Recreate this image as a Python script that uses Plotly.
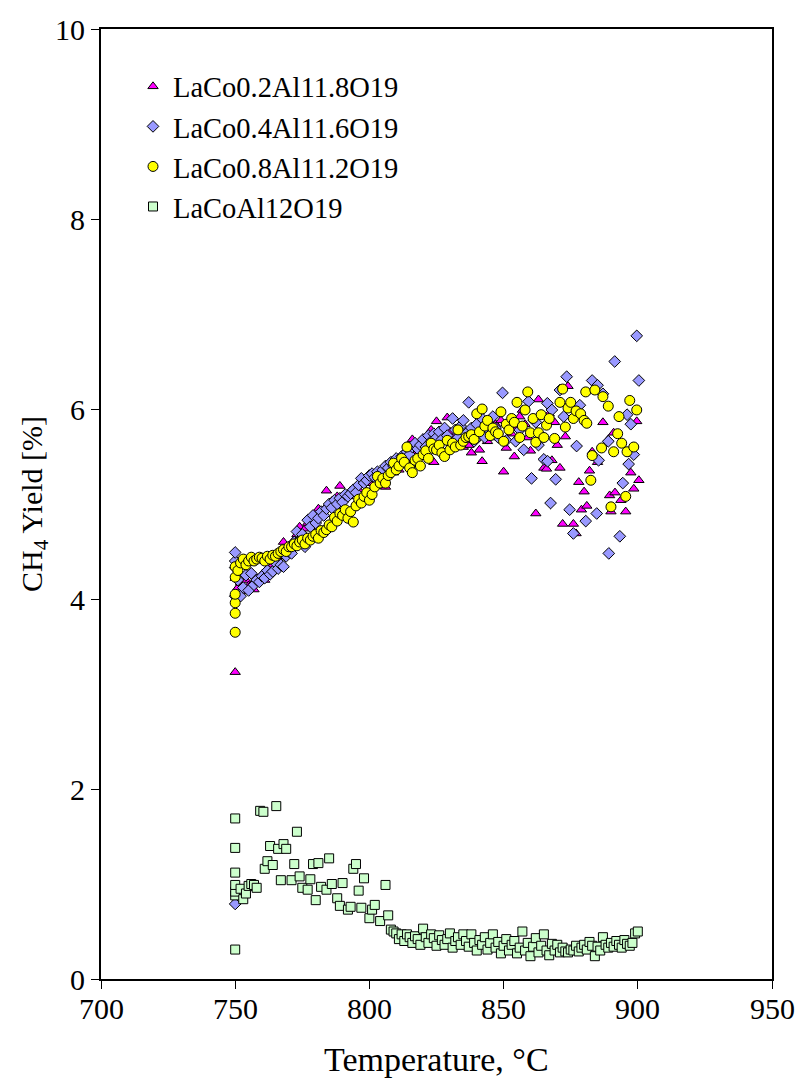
import plotly.graph_objects as go

# LaCo0.2Al11.8O19 (magenta triangles)
t1 = [750, 750, 751, 752, 753, 754, 755, 756, 757, 758, 759, 760, 761, 762, 763, 764, 765, 766, 767, 768,
      769, 770, 771, 772, 773, 774, 775, 776, 777, 778, 779, 780, 781, 782, 783, 784, 785, 786, 787, 788,
      789, 790, 791, 792, 793, 794, 795, 796, 797, 798, 799, 800, 801, 802, 803, 804, 805, 806, 807, 808,
      809, 810, 811, 812, 813, 814, 815, 816, 817, 818, 819, 820, 821, 822, 823, 824, 825, 826, 827, 828,
      829, 830, 831, 832, 833, 834, 835, 836, 837, 838, 839, 840, 841, 842, 843, 844, 845, 846, 847, 848,
      849, 850, 851, 852, 853, 854, 855, 856, 857, 858, 859, 860, 861, 862, 863, 864, 865, 866, 867, 868,
      869, 870, 871, 872, 873, 874, 875, 876, 877, 878, 879, 880, 881, 882, 883, 885, 887, 889, 889.5, 890,
      891, 891.5, 893.7, 895.5, 897.4, 898.5, 899.6, 900.4]
y1 = [3.23, 4.22, 4.12, 4.17, 4.08, 4.20, 4.14, 4.15, 4.10, 4.22, 4.19, 4.26, 4.20, 4.30, 4.28, 4.36, 4.34, 4.42, 4.45, 4.60,
      4.52, 4.55, 4.58, 4.62, 4.68, 4.76, 4.70, 4.74, 4.80, 4.84, 4.78, 4.86, 4.95, 4.90, 4.94, 5.14, 4.98, 5.03, 5.00, 5.08,
      5.19, 5.06, 5.10, 5.08, 5.14, 5.12, 5.18, 5.15, 5.20, 5.22, 5.25, 5.22, 5.28, 5.26, 5.30, 5.24, 5.32, 5.18, 5.35, 5.38,
      5.33, 5.40, 5.36, 5.45, 5.42, 5.50, 5.46, 5.68, 5.52, 5.55, 5.60, 5.58, 5.64, 5.62, 5.78, 5.44, 5.87, 5.66, 5.70, 5.68,
      5.91, 5.76, 5.62, 5.72, 5.65, 5.70, 5.60, 5.75, 5.62, 5.54, 5.68, 5.72, 5.57, 5.45, 5.78, 5.66, 5.82, 5.70, 5.84, 5.76,
      5.88, 5.34, 5.59, 5.86, 5.74, 5.50, 5.80, 5.92, 5.99, 5.84, 5.70, 5.56, 5.90, 4.90, 6.10, 5.94, 5.38, 5.37, 5.95, 5.46,
      5.86, 5.62, 5.38, 4.79, 5.71, 6.24, 6.05, 4.79, 4.69, 5.23, 4.94, 5.13, 4.98, 5.35, 5.55, 5.44, 5.86, 5.68, 5.09, 4.92,
      5.75, 5.12, 5.04, 4.92, 5.33, 5.16, 5.87, 5.25]

# LaCo0.4Al11.6O19 (blue diamonds)
t2 = [750, 750, 750, 750, 750, 751, 752, 753, 754, 755, 756, 757, 758, 759, 760, 761, 762, 763, 764, 765,
      766, 767, 768, 769, 770, 771, 772, 773, 774, 775, 776, 777, 778, 779, 780, 781, 782, 783, 784, 785,
      786, 787, 788, 789, 790, 791, 792, 793, 794, 795, 796, 797, 798, 799, 800, 801, 802, 803, 804, 805,
      806, 807, 808, 809, 810, 811, 812, 813, 814, 815, 816, 817, 818, 819, 820, 821, 822, 823, 824, 825,
      826, 827, 828, 829, 830, 831, 832, 833, 834, 835, 836, 837, 838, 839, 840, 841, 842, 843, 844, 845,
      846, 847, 848, 849.6, 851, 852, 854.5, 856, 857.5, 859.3, 860.4, 862, 863, 865, 866.3, 866.4, 867.5, 868, 869.4, 871,
      872.4, 873.5, 874.6, 876, 877.2, 878.4, 880.6, 883, 884.7, 885, 885.4, 887, 889, 889.2, 891.4, 893.3, 894.4, 896, 896.6, 897.4,
      898.5, 899.6, 900.4]
y2 = [0.79, 4.03, 4.33, 4.40, 4.49, 4.20, 4.03, 4.12, 4.25, 4.09, 4.27, 4.15, 4.20, 4.18, 4.24, 4.22, 4.30, 4.26, 4.29, 4.38,
      4.32, 4.36, 4.34, 4.45, 4.50, 4.48, 4.60, 4.71, 4.62, 4.68, 4.55, 4.83, 4.76, 4.88, 4.80, 4.85, 4.92, 4.88, 4.95, 5.00,
      4.96, 5.04, 5.00, 5.06, 5.02, 5.10, 5.08, 5.11, 5.15, 5.12, 5.20, 5.27, 5.22, 5.25, 5.30, 5.32, 5.28, 5.34, 5.30, 5.36,
      5.40, 5.38, 5.44, 5.40, 5.48, 5.45, 5.50, 5.46, 5.55, 5.52, 5.60, 5.64, 5.58, 5.62, 5.68, 5.60, 5.72, 5.66, 5.74, 5.70,
      5.76, 5.68, 5.80, 5.72, 5.64, 5.90, 5.78, 5.70, 5.82, 5.88, 5.74, 6.07, 5.80, 5.66, 5.84, 5.72, 5.90, 5.70, 5.86, 5.76,
      5.92, 5.80, 5.70, 6.17, 5.67, 5.84, 5.66, 5.78, 5.57, 6.08, 5.27, 5.86, 5.62, 5.47, 6.06, 5.45, 5.01, 5.99, 5.26, 6.20,
      5.92, 6.34, 4.94, 4.69, 5.61, 6.04, 4.82, 6.30, 4.90, 6.25, 5.46, 6.16, 5.66, 4.48, 6.50, 4.66, 5.22, 5.94, 5.42, 5.84,
      5.52, 6.77, 6.30]

# LaCo0.8Al11.2O19 (yellow circles)
t3 = [750, 750, 750, 750, 750, 750, 751, 752, 753, 754, 755, 756, 757, 758, 759, 760, 761, 762, 763, 764,
      765, 766, 767, 768, 769, 770, 771, 772, 773, 774, 775, 776, 777, 778, 779, 780, 781, 782, 783, 784,
      785, 786, 787, 788, 789, 790, 791, 792, 793, 794, 795, 796, 797, 798, 799, 800, 801, 802, 803, 804,
      805, 806, 807, 808, 809, 810, 811, 812, 813, 814, 815, 816, 817, 818, 819, 820, 821, 822, 823, 824,
      825, 826, 827, 828, 829, 830, 831, 832, 833, 834, 835, 836, 837, 838, 839, 840, 841, 842, 843, 844,
      845, 846, 847, 848, 849, 850, 851, 852, 853, 854, 855, 856, 857, 858, 859, 860, 861, 862, 863, 864,
      865, 866, 867, 869, 871, 872, 873, 874, 875, 876, 877, 878.7, 880, 880.6, 881, 882.5, 883, 884, 886.5, 887,
      889, 890, 891, 892.5, 893, 894, 895.5, 896, 897, 898.5, 899.6]
y3 = [3.65, 3.85, 3.96, 4.05, 4.23, 4.34, 4.30, 4.38, 4.42, 4.36, 4.40, 4.44, 4.40, 4.42, 4.44, 4.43, 4.40, 4.45, 4.42, 4.46,
      4.45, 4.48, 4.50, 4.52, 4.50, 4.55, 4.55, 4.58, 4.56, 4.60, 4.62, 4.58, 4.64, 4.62, 4.66, 4.68, 4.64, 4.72, 4.70, 4.73,
      4.78, 4.76, 4.86, 4.82, 4.90, 4.88, 4.94, 4.85, 4.92, 4.81, 4.98, 5.05, 5.01, 5.08, 5.12, 5.04, 5.10, 5.18, 5.29, 5.22,
      5.27, 5.22, 5.30, 5.33, 5.43, 5.36, 5.40, 5.48, 5.44, 5.60, 5.38, 5.33, 5.46, 5.48, 5.40, 5.52, 5.56, 5.48, 5.64, 5.58,
      5.57, 5.62, 5.54, 5.50, 5.67, 5.57, 5.64, 5.60, 5.78, 5.62, 5.66, 5.70, 5.71, 5.73, 5.68, 5.95, 5.76, 6.00, 5.82, 5.88,
      5.72, 5.80, 5.76, 5.74, 5.97, 5.66, 5.84, 5.78, 5.90, 5.86, 6.07, 5.70, 5.82, 5.99, 6.18, 5.75, 5.90, 5.65, 5.75, 5.94,
      5.70, 5.83, 5.90, 5.69, 6.07, 6.21, 5.81, 6.01, 6.07, 5.90, 5.98, 5.95, 5.88, 6.18, 5.85, 5.25, 5.51, 6.20, 5.59, 6.13,
      6.03, 4.97, 5.55, 5.74, 5.92, 5.64, 5.08, 5.55, 6.09, 5.60, 5.99]

# LaCoAl12O19 (green squares)
t4 = [750, 750, 750, 750, 750, 750, 750, 752, 753, 754, 755, 756, 757, 758, 759.3, 760.5, 761, 762, 763, 764,
      765.3, 766, 767, 768, 769, 771, 772, 773, 774, 775, 777, 778, 779, 780, 781, 782, 784, 785, 786, 788,
      789, 790, 792, 793, 794, 795, 796, 797, 798, 800, 801, 802, 804, 806, 807, 808, 809, 810, 811, 812,
      813, 814, 815, 816, 817, 818, 819, 820, 821, 822, 823, 824, 825, 826, 827, 828, 829, 830, 831, 832,
      833, 834, 835, 836, 837, 838, 839, 840, 841, 842, 843, 844, 845, 846, 847, 848, 849, 850, 851, 852,
      853, 854, 855, 856, 857, 858, 859, 860, 861, 862, 863, 864, 865, 866, 867, 868, 869, 870, 871, 872,
      873, 874, 875, 876, 877, 878, 879, 880, 881, 882, 883, 884, 885, 886, 887, 888, 889, 890, 891, 892,
      893, 894, 895, 896, 897, 898, 899, 900]
y4 = [0.31, 0.88, 0.92, 0.99, 1.12, 1.38, 1.69, 0.95, 0.84, 0.90, 0.98, 1.00, 0.99, 0.96, 1.77, 1.76, 1.16, 1.24, 1.40, 1.20,
      1.82, 1.37, 1.04, 1.42, 1.37, 1.04, 1.21, 1.55, 1.08, 0.96, 0.94, 1.05, 1.21, 0.83, 1.22, 0.97, 0.94, 1.27, 1.00, 0.85,
      0.77, 1.01, 0.73, 0.76, 1.16, 1.21, 0.93, 0.75, 1.06, 0.64, 0.73, 0.78, 0.61, 0.99, 0.67, 0.52, 0.50, 0.48, 0.42, 0.47,
      0.40, 0.47, 0.44, 0.38, 0.45, 0.42, 0.36, 0.53, 0.44, 0.38, 0.47, 0.43, 0.35, 0.46, 0.41, 0.36, 0.42, 0.48, 0.33, 0.40,
      0.44, 0.36, 0.47, 0.40, 0.34, 0.47, 0.38, 0.30, 0.41, 0.36, 0.44, 0.31, 0.38, 0.47, 0.33, 0.39, 0.27, 0.35, 0.42, 0.30,
      0.36, 0.40, 0.27, 0.33, 0.50, 0.30, 0.38, 0.24, 0.34, 0.43, 0.28, 0.35, 0.47, 0.30, 0.25, 0.37, 0.30, 0.36, 0.28, 0.33,
      0.29, 0.28, 0.31, 0.30, 0.35, 0.29, 0.33, 0.36, 0.31, 0.39, 0.35, 0.24, 0.34, 0.30, 0.44, 0.36, 0.33, 0.38, 0.34, 0.40,
      0.36, 0.33, 0.41, 0.37, 0.35, 0.38, 0.48, 0.50]

names = ["LaCo0.2Al11.8O19", "LaCo0.4Al11.6O19", "LaCo0.8Al11.2O19", "LaCoAl12O19"]
symbols = ["triangle-up", "diamond", "circle", "square"]
colors = ["#FF00FF", "#9999FF", "#FFFF00", "#CCFFCC"]
sizes = [9, 9, 10, 9]
xs = [t1, t2, t3, t4]
ys = [y1, y2, y3, y4]

x_ticks = [700, 750, 800, 850, 900, 950]
y_ticks = [0, 2, 4, 6, 8, 10]
x_title = "Temperature, °C"
y_title = "CH<sub>4</sub> Yield [%]"

FONT = "Liberation Serif, Times New Roman, serif"

fig = go.Figure()
for x, y, n, s, c, sz in zip(xs, ys, names, symbols, colors, sizes):
    fig.add_trace(go.Scatter(
        x=x, y=y, mode="markers", name=n,
        marker=dict(symbol=s, color=c, size=sz, line=dict(color="black", width=1)),
    ))

axis_common = dict(
    showline=True, linecolor="black", linewidth=2, mirror=True,
    ticks="outside", ticklen=8, tickwidth=1, tickcolor="black",
    showgrid=False, zeroline=False,
    tickfont=dict(family=FONT, size=30, color="black"),
)

# x tick labels placed close under the ticks (Excel style)
annotations = [
    dict(x=v, xref="x", y=0, yref="paper", text=str(v), showarrow=False,
         xanchor="center", yanchor="top", yshift=-11,
         font=dict(family=FONT, size=30, color="black"))
    for v in x_ticks
]
annotations.append(dict(x=0.5, xref="paper", y=0, yref="paper", text=x_title, showarrow=False,
                        xanchor="center", yanchor="middle", yshift=-80,
                        font=dict(family=FONT, size=34, color="black")))

fig.update_layout(
    width=801, height=1083,
    margin=dict(l=101, r=29, t=29, b=104),
    paper_bgcolor="white", plot_bgcolor="white",
    font=dict(family=FONT, size=30, color="black"),
    showlegend=True,
    legend=dict(x=0.0477, y=0.966, xanchor="left", yanchor="top",
                bgcolor="rgba(0,0,0,0)", font=dict(family=FONT, size=28.5, color="black"),
                itemsizing="trace", tracegroupgap=0),
    xaxis=dict(range=[700, 950], tickvals=x_ticks, showticklabels=False,
               automargin=False, **axis_common),
    yaxis=dict(range=[0, 10], tickvals=y_ticks,
               title=dict(text=y_title, font=dict(family=FONT, size=30), standoff=4),
               automargin=False, **axis_common),
    annotations=annotations,
)

fig.write_html("out.html")
